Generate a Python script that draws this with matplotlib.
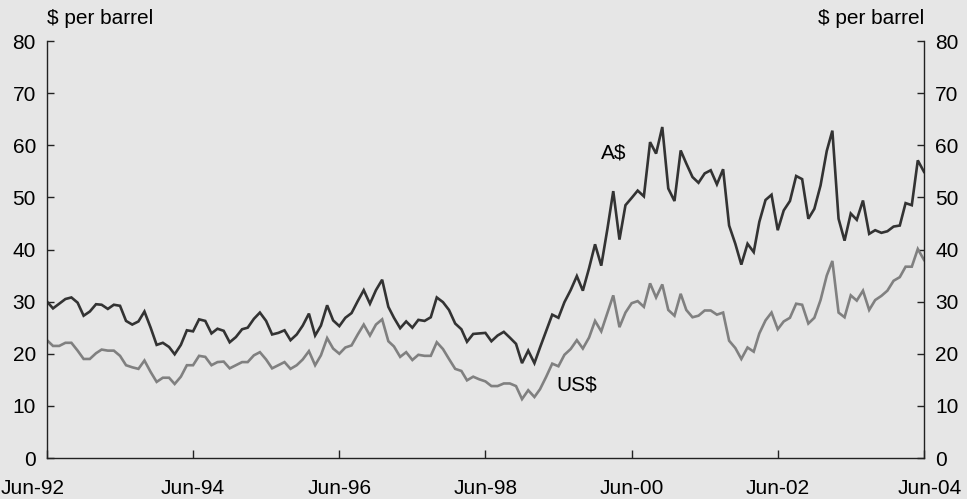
import numpy as np
import pandas as pd
import matplotlib
matplotlib.use("Agg")
import matplotlib.pyplot as plt
import matplotlib.dates as mdates
from matplotlib.transforms import ScaledTranslation

plt.rcParams["font.family"] = ["Liberation Sans", "DejaVu Sans"]

# ==========================================================
# Datos: precio del petróleo, mensual Jun-92 a Jun-04
# ==========================================================
fechas = pd.date_range("1992-06-01", periods=145, freq="MS")

aud = [
    30.0, 28.7, 29.6, 30.5, 30.8, 29.8, 27.3, 28.1, 29.5, 29.4, 28.6, 29.4,
    29.2, 26.3, 25.6, 26.2, 28.1, 25.0, 21.7, 22.1, 21.3, 19.9, 21.7, 24.5,
    24.3, 26.6, 26.3, 23.9, 24.8, 24.4, 22.2, 23.2, 24.7, 25.0, 26.7, 27.9,
    26.3, 23.7, 24.0, 24.5, 22.6, 23.7, 25.4, 27.7, 23.5, 25.4, 29.3, 26.4,
    25.3, 26.9, 27.8, 30.1, 32.2, 29.6, 32.2, 34.2, 29.0, 26.9, 24.9, 26.2,
    25.0, 26.5, 26.3, 27.0, 30.8, 29.9, 28.4, 25.8, 24.7, 22.3, 23.8, 23.9,
    24.0, 22.4, 23.5, 24.2, 23.1, 21.9, 18.2, 20.6, 18.2, 21.2, 24.4, 27.5,
    26.9, 29.9, 32.2, 34.9, 32.1, 36.4, 41.0, 36.9, 44.0, 51.2, 41.9, 48.5,
    49.9, 51.3, 50.2, 60.6, 58.4, 63.5, 51.7, 49.3, 59.0, 56.5, 53.9, 52.8,
    54.6, 55.2, 52.5, 55.4, 44.6, 41.1, 37.1, 41.1, 39.5, 45.3, 49.5, 50.5,
    43.7, 47.5, 49.3, 54.1, 53.5, 45.9, 47.8, 52.3, 58.9, 62.8, 45.9, 41.7,
    46.9, 45.7, 49.4, 43.0, 43.7, 43.2, 43.5, 44.4, 44.6, 48.9, 48.5, 57.1,
    54.9,
]

usd = [
    22.6, 21.5, 21.5, 22.1, 22.1, 20.6, 19.0, 19.0, 20.1, 20.8, 20.6, 20.6,
    19.6, 17.8, 17.4, 17.1, 18.7, 16.5, 14.6, 15.4, 15.4, 14.2, 15.6, 17.8,
    17.8, 19.6, 19.4, 17.8, 18.4, 18.5, 17.2, 17.8, 18.4, 18.4, 19.7, 20.3,
    18.9, 17.2, 17.8, 18.4, 17.1, 17.8, 18.9, 20.5, 17.8, 19.7, 23.0, 21.0,
    20.0, 21.2, 21.6, 23.7, 25.6, 23.5, 25.6, 26.6, 22.4, 21.4, 19.4, 20.3,
    18.8, 19.8, 19.6, 19.6, 22.2, 20.9, 19.0, 17.1, 16.7, 14.9, 15.6, 15.1,
    14.7, 13.8, 13.8, 14.3, 14.3, 13.8, 11.3, 13.0, 11.7, 13.2, 15.6, 18.1,
    17.6, 19.8, 20.9, 22.6, 21.0, 23.1, 26.3, 24.3, 27.9, 31.2, 25.1, 27.9,
    29.7, 30.1, 29.0, 33.5, 30.8, 33.3, 28.4, 27.3, 31.5, 28.4, 27.0, 27.3,
    28.3, 28.3, 27.5, 27.9, 22.5, 21.1, 19.0, 21.2, 20.4, 23.9, 26.4, 27.9,
    24.7, 26.2, 26.9, 29.6, 29.4, 25.8, 26.9, 30.3, 35.0, 37.8, 27.9, 27.0,
    31.2, 30.2, 32.1, 28.4, 30.3, 31.1, 32.1, 34.0, 34.7, 36.7, 36.7, 40.1,
    38.0,
]

etiquetas_x = ["Jun-92", "Jun-94", "Jun-96", "Jun-98", "Jun-00", "Jun-02", "Jun-04"]
ticks_y = [0, 10, 20, 30, 40, 50, 60, 70, 80]

FONDO = "#e6e6e6"
FS = 15

# ==========================================================
# Gráfico
# ==========================================================
fig = plt.figure(figsize=(9.67, 4.99), dpi=100, facecolor=FONDO)
ax = fig.add_axes([47 / 967, 41 / 499, 877 / 967, 417 / 499])
ax.set_facecolor(FONDO)

ax.plot(fechas, aud, color="#333333", lw=1.9, solid_joinstyle="miter")
ax.plot(fechas, usd, color="#808080", lw=1.9, solid_joinstyle="miter")

ax.set_xlim(fechas[0], fechas[-1])
ax.set_ylim(0, 80)

ticks_x = fechas[::24]
ax.set_xticks(ticks_x)
ax.set_xticklabels(etiquetas_x)
ax.set_yticks(ticks_y)

ax.spines["top"].set_visible(False)
for s in ["left", "right", "bottom"]:
    ax.spines[s].set_color("#222222")
    ax.spines[s].set_linewidth(1.0)

ax.tick_params(axis="y", which="both", direction="in", length=5, width=1,
               left=True, right=True, labelleft=True, labelright=True,
               labelsize=FS, pad=8, colors="#222222")
ax.tick_params(axis="x", direction="in", length=6, width=1, labelsize=FS,
               pad=15, colors="#222222")
for lab in ax.get_yticklabels(which="both"):
    lab.set_color("black")
for lab in ax.get_xticklabels():
    lab.set_color("black")

# la primera y la última etiqueta del eje x van desplazadas
primera = ax.get_xticklabels()[0]
primera.set_transform(primera.get_transform() +
                      ScaledTranslation(-14 / 100, 0, fig.dpi_scale_trans))
ultima = ax.get_xticklabels()[-1]
ultima.set_transform(ultima.get_transform() +
                     ScaledTranslation(6 / 100, 0, fig.dpi_scale_trans))

ax.text(0, 1.055, "$ per barrel", transform=ax.transAxes, ha="left",
        va="center", fontsize=FS)
ax.text(1, 1.055, "$ per barrel", transform=ax.transAxes, ha="right",
        va="center", fontsize=FS)

ax.text(fechas[93], 58.6, "A$", ha="center", va="center", fontsize=FS)
ax.text(fechas[87], 14.0, "US$", ha="center", va="center", fontsize=FS)

fig.savefig("out.png", dpi=100, facecolor=FONDO)
